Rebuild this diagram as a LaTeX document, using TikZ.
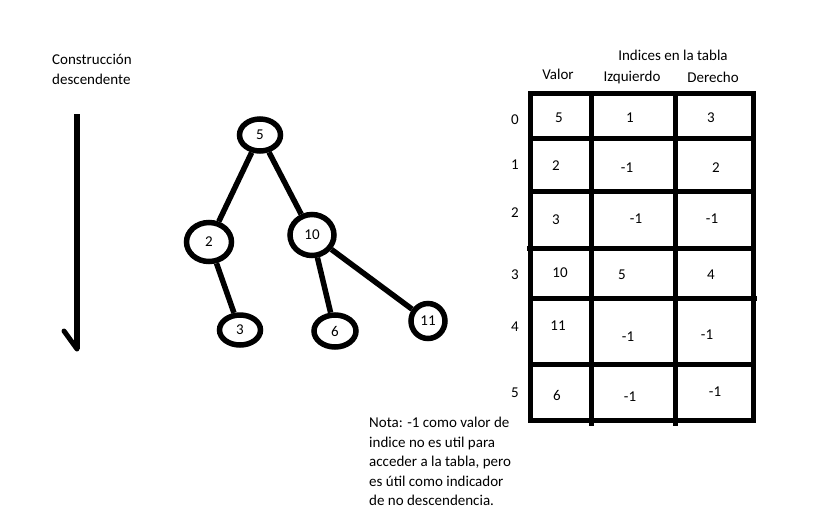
\documentclass[tikz,border=0pt]{standalone}
\usepackage{fontspec}
\setmainfont{Carlito}
\usepackage{tikz}
\usetikzlibrary{shapes.geometric, positioning}

\begin{document}
\begin{tikzpicture}[x=1pt, y=-1pt, font=\fontsize{15}{19.5}\selectfont,
    vert/.style={ellipse, draw, line width=5.5pt, inner sep=0pt},
    edge/.style={line width=5.5pt},
    grid/.style={line width=5pt},
    txt/.style={inner sep=0pt}]
                        \useasboundingbox (0,0) rectangle (816,512);
                        % flecha
                        \node[txt, align=left, anchor=north west] (titulo) at (52,54) {Construcción\\descendente};
                        \coordinate (arriba) at (77,114);
                        \coordinate (punta) at (77,349);
                        \coordinate (barba) at (64,331);
                        \draw[line width=6pt] (arriba) -- (punta);
                        \draw[line width=5pt, line cap=round] (barba) -- (punta);
                        % arbol
                        \node[vert, minimum width=41, minimum height=32] (n5) at (260,135) {5};
                        \node[vert, minimum width=45, minimum height=39] (n2) at (209,242) {2};
                        \node[vert, minimum width=44, minimum height=41] (n10) at (312,235) {10};
                        \node[vert, minimum width=41, minimum height=30] (n3) at (240,330) {3};
                        \node[vert, minimum width=42, minimum height=32] (n6) at (335,331) {6};
                        \node[vert, minimum width=34, minimum height=35] (n11) at (428,321) {11};
                        \draw[edge]
                        (n5) -- (n2)
                        (n5) -- (n10)
                        (n2) -- (n3)
                        (n10) -- (n6)
                        (n10) -- (n11);
                        % tabla
                        \draw[grid] (530,93) rectangle (753,420);
                        \draw[grid]
                        (591,93) -- (591,426)
                        (675,93) -- (675,426)
                        (530,138) -- (753,138)
                        (530,191) -- (753,191)
                        (527,248) -- (753,248)
                        (530,298) -- (757,298)
                        (528,364) -- (753,364);
                        \node[txt] (indices) at (673,55) {Indices en la tabla};
                        \node[txt] (valor) at (558,74) {Valor};
                        \node[txt] (izq) at (632,77) {Izquierdo};
                        \node[txt] (der) at (713,77) {Derecho};
                        \foreach \i/\y in {0/120, 1/165, 2/213, 3/275, 4/327, 5/393}
                            \node[txt] (f\i) at (515,\y) {\i};
                        \foreach \v/\x/\y [count=\k] in {5/559/118, 2/556/166, 3/556/220, 10/560/273, 11/558/326, 6/557/395,
                            1/630/118, -1/627/168, -1/636/219, 5/622/275, -1/628/337, -1/630/397,
                            3/711/118, 2/716/168, -1/712/219, 4/711/275, -1/707/335, -1/715/392}
                            \node[txt] (c\k) at (\x,\y) {\v};
                        % nota
                        \node[txt, align=left, anchor=north west] (nota) at (369,417) {Nota: -1 como valor de\\indice no es util para\\acceder a la tabla, pero\\es útil como indicador\\de no descendencia.};
                    \end{tikzpicture}
\end{document}
